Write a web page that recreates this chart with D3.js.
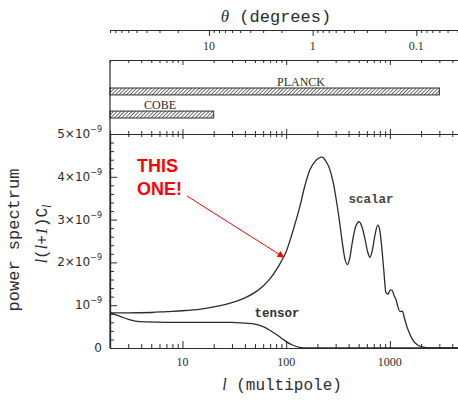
<!DOCTYPE html>
<html><head><meta charset="utf-8">
<script src="https://cdn.jsdelivr.net/npm/d3@7"></script>
<style>body{margin:0;background:#fff} svg{display:block}</style>
</head><body>
<svg id="chart" width="458" height="409"></svg>
<script>
// CMB anisotropy power spectrum l(l+1)C_l, amplitudes in units of 1e-9
const scalarL = [2, 3, 5, 7, 10, 15, 20, 25, 30, 40, 50, 60, 70, 80, 90, 100, 115, 135, 150, 169, 190, 220, 245, 263, 285, 307, 325, 344, 367, 390, 410, 440, 470, 505, 540, 575, 610, 645, 680, 720, 765, 800, 835, 875, 915, 960, 1010, 1050, 1100, 1150, 1200, 1250, 1320, 1380, 1460, 1560, 1670, 1850, 2100, 2600, 4540];
const scalarV = [0.82, 0.82, 0.83, 0.85, 0.87, 0.91, 0.96, 1.01, 1.06, 1.17, 1.3, 1.45, 1.62, 1.82, 2.03, 2.25, 2.7, 3.29, 3.75, 4.16, 4.36, 4.46, 4.34, 4.18, 3.85, 3.4, 3.0, 2.55, 2.1, 1.95, 2.1, 2.55, 2.85, 2.95, 2.82, 2.55, 2.25, 2.12, 2.3, 2.65, 2.87, 2.75, 2.35, 1.8, 1.3, 1.26, 1.36, 1.35, 1.22, 1.12, 0.95, 0.85, 0.86, 0.7, 0.5, 0.32, 0.18, 0.07, 0.02, 0, 0];
const tensorL = [2, 2.5, 3, 3.5, 4.5, 7, 15, 30, 40, 50, 60, 70, 80, 90, 100, 115, 135, 160, 4540];
const tensorV = [0.82, 0.74, 0.67, 0.63, 0.61, 0.6, 0.6, 0.6, 0.58, 0.56, 0.5, 0.41, 0.32, 0.23, 0.15, 0.07, 0.015, 0, 0];
const curveNames = ["scalar", "tensor"];

// axis ticks and labels
const lTickValues = [10, 100, 1000];
const lTickLabels = ["10", "100", "1000"];
const thetaTickValues = [10, 1, 0.1];
const thetaTickLabels = ["10", "1", "0.1"];
const yTickValues = [0, 1, 2, 3, 4, 5];
const yTickLabels = ["0", "10^−9", "2×10^−9", "3×10^−9", "4×10^−9", "5×10^−9"];

// experiment coverage in multipole
const experimentNames = ["PLANCK", "COBE"];
const experimentLmax = [3000, 20];

const svg = d3.select("#chart");
const ink = "#2b2b2b";
const monoFont = "'Liberation Mono', 'DejaVu Sans Mono', monospace";
const serifFont = "'Liberation Serif', 'DejaVu Serif', serif";

const x = d3.scaleLog().domain([2, 4540]).range([110, 458]);
const y = d3.scaleLinear().domain([0, 5]).range([348, 134]);
// angular scale theta ~ 180 deg / l
const theta = d3.scaleLog().domain([180 / 2, 180 / 4540]).range([110, 458]);

function minorLogTicks(lo, hi) {
  const t = [];
  for (let e = -3; e <= 4; e++) for (let m = 2; m <= 9; m++) {
    const v = m * Math.pow(10, e);
    if (v >= lo && v <= hi) t.push(v);
  }
  return t;
}
const lMinor = minorLogTicks(2, 4540);
const thetaMinor = minorLogTicks(180 / 4540, 90);
const yMinor = d3.range(0, 5.01, 0.2).filter(v => Math.abs(v - Math.round(v)) > 1e-6);

function styleAxis(g) {
  g.select(".domain").attr("stroke", ink).attr("stroke-width", 1.2);
  g.selectAll(".tick line").attr("stroke", ink).attr("stroke-width", 1);
  g.selectAll(".tick text").remove();
}
function axisAt(gen, yPos, values, size) {
  const g = svg.append("g").attr("transform", `translate(0,${yPos})`)
    .call(gen.tickValues(values).tickSize(size).tickSizeOuter(0).tickFormat(""));
  styleAxis(g);
  return g;
}

// hatch pattern for the coverage bars, arrowhead for the callout
const defs = svg.append("defs");
defs.append("pattern").attr("id", "hatch").attr("patternUnits", "userSpaceOnUse")
  .attr("width", 2.6).attr("height", 2.6).attr("patternTransform", "rotate(45)")
  .append("line").attr("x1", 0).attr("y1", 0).attr("x2", 0).attr("y2", 2.6)
  .attr("stroke", "#222").attr("stroke-width", 1.3);
defs.append("marker").attr("id", "arrow").attr("viewBox", "0 0 10 10")
  .attr("refX", 9).attr("refY", 5).attr("markerWidth", 9).attr("markerHeight", 7)
  .attr("markerUnits", "userSpaceOnUse").attr("orient", "auto")
  .append("path").attr("d", "M0,0 L10,5 L0,10 z").attr("fill", "#ff0000");

// top angular axis
axisAt(d3.axisBottom(theta), 30, thetaMinor, 3);
axisAt(d3.axisBottom(theta), 30, thetaTickValues, 6);
svg.append("g").selectAll("text").data(thetaTickValues).join("text")
  .attr("x", d => theta(d)).attr("y", 50).attr("text-anchor", "middle")
  .attr("font-family", serifFont).attr("font-size", 12).attr("fill", ink)
  .text((d, i) => thetaTickLabels[i]);
const tt = svg.append("text").attr("x", 276).attr("y", 22).attr("text-anchor", "middle")
  .attr("font-family", monoFont).attr("font-size", 17).attr("fill", ink);
tt.append("tspan").attr("font-family", serifFont).attr("font-style", "italic").text("θ");
tt.append("tspan").text(" (degrees)");

// experiment panel
axisAt(d3.axisBottom(x), 60, lMinor, 3);
axisAt(d3.axisBottom(x), 60, lTickValues, 5);
svg.append("line").attr("x1", 110).attr("x2", 110).attr("y1", 60).attr("y2", 348)
  .attr("stroke", ink).attr("stroke-width", 1.2);

const barY = d3.scaleBand().domain(experimentNames).range([88, 118]).paddingInner(0.7);
const bars = svg.append("g").selectAll("g").data(experimentNames).join("g");
bars.append("rect")
  .attr("x", x(2)).attr("y", d => barY(d))
  .attr("width", (d, i) => x(experimentLmax[i]) - x(2)).attr("height", barY.bandwidth())
  .attr("fill", "url(#hatch)").attr("stroke", ink).attr("stroke-width", 1);
bars.append("text")
  .attr("x", (d, i) => i === 0 ? 301 : 160).attr("y", d => barY(d) - 2)
  .attr("text-anchor", "middle").attr("font-family", serifFont).attr("font-size", 12)
  .attr("fill", ink).text(d => d);

// main panel frame: top edge with ticks on both sides
axisAt(d3.axisTop(x), 134, lMinor, 3);
axisAt(d3.axisBottom(x), 134, lMinor, 3);
axisAt(d3.axisTop(x), 134, lTickValues, 5);
axisAt(d3.axisBottom(x), 134, lTickValues, 5);

// bottom multipole axis, ticks pointing inward
axisAt(d3.axisBottom(x), 348, lMinor, -4);
axisAt(d3.axisBottom(x), 348, lTickValues, -7);
svg.append("g").selectAll("text").data(lTickValues).join("text")
  .attr("x", d => x(d)).attr("y", 366).attr("text-anchor", "middle")
  .attr("font-family", serifFont).attr("font-size", 12).attr("fill", ink)
  .text((d, i) => lTickLabels[i]);
const xt = svg.append("text").attr("x", 282).attr("y", 390).attr("text-anchor", "middle")
  .attr("font-family", monoFont).attr("font-size", 16).attr("fill", ink);
xt.append("tspan").attr("font-family", serifFont).attr("font-style", "italic").text("l");
xt.append("tspan").text(" (multipole)");

// left amplitude axis, ticks pointing inward
const gy1 = svg.append("g").attr("transform", "translate(110,0)")
  .call(d3.axisLeft(y).tickValues(yMinor).tickSize(-4).tickSizeOuter(0).tickFormat(""));
styleAxis(gy1);
const gy2 = svg.append("g").attr("transform", "translate(110,0)")
  .call(d3.axisLeft(y).tickValues(yTickValues).tickSize(-7).tickSizeOuter(0).tickFormat(""));
styleAxis(gy2);
svg.append("g").selectAll("text").data(yTickValues).join("text")
  .attr("x", 102).attr("y", d => y(d) + 4).attr("text-anchor", "end")
  .attr("font-family", "'DejaVu Sans', sans-serif").attr("font-size", 12).attr("fill", ink)
  .each(function (d, i) {
    const parts = yTickLabels[i].split("^");
    const t = d3.select(this);
    t.append("tspan").text(parts[0]);
    if (parts[1]) t.append("tspan").attr("font-size", 8).attr("dy", -6).text(parts[1]);
  });

// vertical axis titles
svg.append("text").attr("transform", "translate(19,240) rotate(-90)")
  .attr("text-anchor", "middle").attr("font-family", monoFont).attr("font-size", 17)
  .attr("fill", ink).text("power spectrum");
const yt = svg.append("text").attr("transform", "translate(47,234) rotate(-90)")
  .attr("text-anchor", "middle").attr("font-family", monoFont).attr("font-size", 16)
  .attr("fill", ink);
yt.append("tspan").attr("font-family", serifFont).attr("font-style", "italic").text("l");
yt.append("tspan").text("(");
yt.append("tspan").attr("font-family", serifFont).attr("font-style", "italic").text("l");
yt.append("tspan").text("+");
yt.append("tspan").attr("font-family", serifFont).attr("font-style", "italic").text("1");
yt.append("tspan").text(")C");
yt.append("tspan").attr("font-family", serifFont).attr("font-style", "italic")
  .attr("font-size", 12).attr("dy", 4).text("l");

// spectra
const line = d3.line().x(d => x(d[0])).y(d => y(d[1])).curve(d3.curveMonotoneX);
svg.append("path").datum(d3.zip(tensorL, tensorV)).attr("d", line)
  .attr("fill", "none").attr("stroke", ink).attr("stroke-width", 1.3);
svg.append("path").datum(d3.zip(scalarL, scalarV)).attr("d", line)
  .attr("fill", "none").attr("stroke", ink).attr("stroke-width", 1.3);

svg.append("text").attr("x", 371).attr("y", 203).attr("text-anchor", "middle")
  .attr("font-family", monoFont).attr("font-weight", "bold").attr("font-size", 12.5)
  .attr("fill", "#444").text(curveNames[0]);
svg.append("text").attr("x", 277).attr("y", 317).attr("text-anchor", "middle")
  .attr("font-family", monoFont).attr("font-weight", "bold").attr("font-size", 12.5)
  .attr("fill", "#333").text(curveNames[1]);

// callout
svg.append("line").attr("x1", 187).attr("y1", 196).attr("x2", x(95)).attr("y2", y(2.12))
  .attr("stroke", "#ff0000").attr("stroke-width", 1).attr("marker-end", "url(#arrow)");
const callout = svg.append("text").attr("font-family", "'Liberation Sans', Arial, sans-serif")
  .attr("font-weight", "bold").attr("font-size", 18).attr("fill", "#ff0000");
callout.append("tspan").attr("x", 137).attr("y", 172).text("THIS");
callout.append("tspan").attr("x", 137).attr("y", 195).text("ONE!");
</script>
</body></html>
